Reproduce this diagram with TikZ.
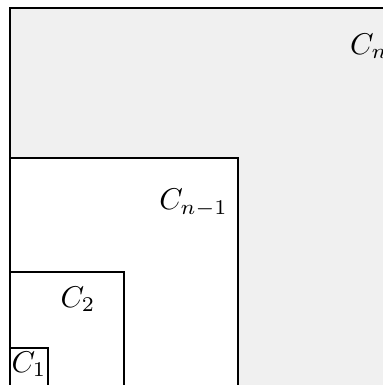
\documentclass[tikz,border=0pt]{standalone}
\begin{document}
\begin{tikzpicture}[x=0.35pt,y=-0.35pt]
\tikzset{
  bigbox/.style={draw=black,line width=0.85pt},
  midbox/.style={draw=black,line width=0.5pt,fill=white},
  smallbox/.style={draw=black,line width=0.4pt,fill=white},
  lbl/.style={inner sep=0pt,scale=1.05}
}
\useasboundingbox (0,0) rectangle (383,385);
\clip (0,0) rectangle (383,385);
\path[bigbox,fill=black!6] (10,8) rectangle (420,420);
\node[lbl] (cn) at (369,46) {$C_n$};
\path[bigbox,fill=white] (10,158) rectangle (238,420);
\node[lbl] (cn1) at (193.5,203) {$C_{n-1}$};
\path[midbox] (10,272) rectangle (124,420);
\node[lbl] (c2) at (78,299) {$C_2$};
\path[smallbox] (10,348) rectangle (48,420);
\node[lbl] (c1) at (29,364) {$C_1$};
\end{tikzpicture}
\end{document}
